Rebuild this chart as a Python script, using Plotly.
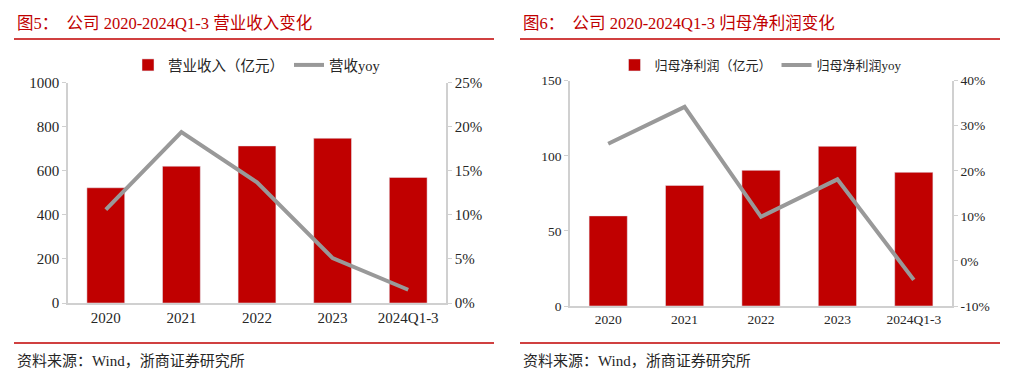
import plotly.graph_objects as go

W, H = 1010, 373

categories = ["2020", "2021", "2022", "2023", "2024Q1-3"]
revenue = [523, 621, 713, 748, 570]           # 营业收入（亿元）
revenue_yoy = [10.6, 19.4, 13.7, 5.1, 1.5]     # 营收yoy (%)
profit = [60, 80.3, 90.3, 106.3, 89]          # 归母净利润（亿元）
profit_yoy = [26.0, 34.2, 9.8, 18.1, -4.2]     # 归母净利润yoy (%)

left_yticks = [0, 200, 400, 600, 800, 1000]
left_y2ticks = [0, 5, 10, 15, 20, 25]
right_yticks = [0, 50, 100, 150]
right_y2ticks = [-10, 0, 10, 20, 30, 40]

RED = "#c00000"
GRAY = "#999999"
AX = "#d0d0d0"
TXT = "#262626"
SERIF = "Liberation Serif, Times New Roman, Noto Sans CJK SC, serif"
CJK = "Liberation Serif, Noto Sans CJK SC, serif"

def px(x):
    return x / W

def py(y):
    return 1 - y / H

fig = go.Figure()

fig.add_trace(go.Bar(x=categories, y=revenue, name="营业收入（亿元）", marker_color=RED,
                     xaxis="x", yaxis="y", legend="legend"))
fig.add_trace(go.Scatter(x=categories, y=revenue_yoy, name="营收yoy", mode="lines",
                         line=dict(color=GRAY, width=4), xaxis="x", yaxis="y2", legend="legend"))
fig.add_trace(go.Bar(x=categories, y=profit, name="归母净利润（亿元）", marker_color=RED,
                     xaxis="x2", yaxis="y3", legend="legend2"))
fig.add_trace(go.Scatter(x=categories, y=profit_yoy, name="归母净利润yoy", mode="lines",
                         line=dict(color=GRAY, width=4), xaxis="x2", yaxis="y4", legend="legend2"))

lfont = dict(family=SERIF, size=15, color=TXT)
rfont = dict(family=SERIF, size=13.5, color=TXT)

def yax(domain, rng, ticks, side, anchor, font, overlay=None, suffix=""):
    d = dict(domain=domain, range=rng, tickvals=ticks, ticktext=[f"{t}{suffix}" for t in ticks],
             side=side, anchor=anchor, showgrid=False, zeroline=False, automargin=False,
             showline=True, linecolor=AX, linewidth=1.5, ticks="outside", ticklen=4,
             tickcolor=AX, tickfont=font, fixedrange=True)
    if overlay:
        d["overlaying"] = overlay
    return d

ldom_x = [px(68), px(446)]
ldom_y = [py(303), py(82.7)]
rdom_x = [px(570), px(952)]
rdom_y = [py(306), py(80.7)]

fig.update_layout(
    width=W, height=H, autosize=False, margin=dict(l=0, r=0, t=0, b=0, pad=0, autoexpand=False),
    paper_bgcolor="white", plot_bgcolor="white",
    bargap=0.5, showlegend=True,
    xaxis=dict(domain=ldom_x, anchor="y", showline=True, linecolor=AX, linewidth=1.5,
               ticks="", tickfont=lfont, showgrid=False, automargin=False),
    yaxis=yax(ldom_y, [0, 1000], left_yticks, "left", "x", lfont),
    yaxis2=yax(ldom_y, [0, 25], left_y2ticks, "right", "x", lfont, overlay="y", suffix="%"),
    xaxis2=dict(domain=rdom_x, anchor="y3", showline=True, linecolor=AX, linewidth=1.5,
                ticks="", tickfont=rfont, showgrid=False, automargin=False),
    yaxis3=yax(rdom_y, [0, 150], right_yticks, "left", "x2", rfont),
    yaxis4=yax(rdom_y, [-10, 40], right_y2ticks, "right", "x2", rfont, overlay="y3", suffix="%"),
    legend=dict(orientation="h", x=px(257), y=py(65), xanchor="center", yanchor="middle",
                font=dict(family=CJK, size=14.5, color=TXT), bgcolor="rgba(0,0,0,0)",
                itemwidth=30, tracegroupgap=0),
    legend2=dict(orientation="h", x=px(761), y=py(65), xanchor="center", yanchor="middle",
                 font=dict(family=CJK, size=13, color=TXT), bgcolor="rgba(0,0,0,0)",
                 itemwidth=30, tracegroupgap=0),
)

# Title / source decorations
titles = [("图5：  公司 2020-2024Q1-3 营业收入变化", 15), ("图6：  公司 2020-2024Q1-3 归母净利润变化", 521)]
for text, x0 in titles:
    fig.add_annotation(text=text, x=px(x0), y=py(23), xref="paper", yref="paper",
                       xanchor="left", yanchor="middle", showarrow=False,
                       font=dict(family=CJK, size=16.5, color=RED))
for x0, x1 in [(14, 494), (520, 1000)]:
    fig.add_shape(type="line", xref="paper", yref="paper", x0=px(x0), x1=px(x1),
                  y0=py(39), y1=py(39), line=dict(color=RED, width=1.5))
    fig.add_shape(type="line", xref="paper", yref="paper", x0=px(x0), x1=px(x1),
                  y0=py(343), y1=py(343), line=dict(color=RED, width=1.5))
for x0 in [15, 521]:
    fig.add_annotation(text="资料来源：Wind，浙商证券研究所", x=px(x0), y=py(361),
                       xref="paper", yref="paper", xanchor="left", yanchor="middle",
                       showarrow=False, font=dict(family=CJK, size=15, color=TXT))

fig.write_html("out.html", config={"displayModeBar": False, "responsive": False},
               post_script="document.body.style.margin='0px';document.body.style.overflow='hidden';")
